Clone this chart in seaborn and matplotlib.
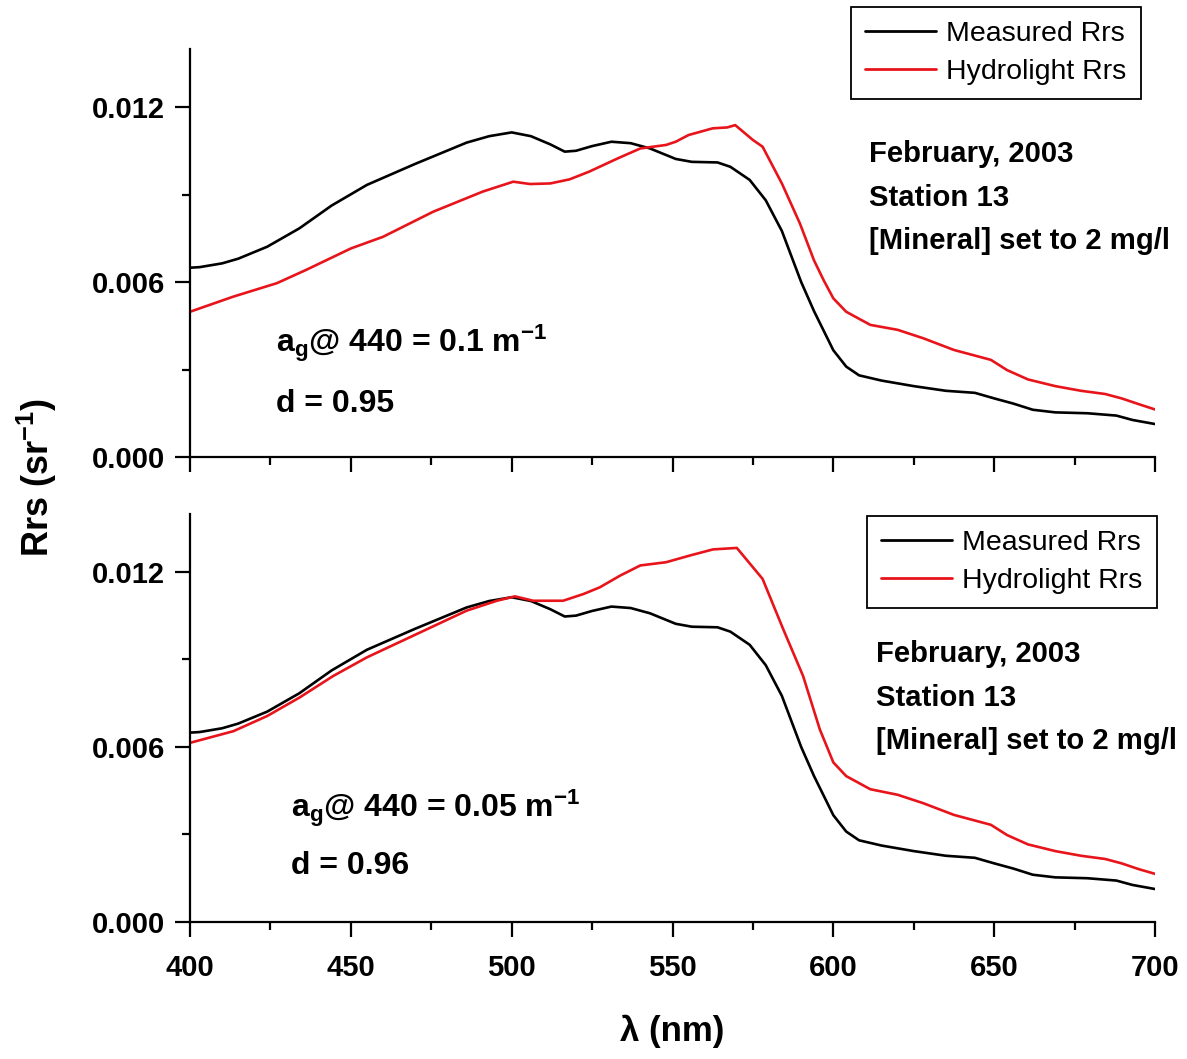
import numpy as np
import pandas as pd
import matplotlib
matplotlib.use("Agg")
import matplotlib.pyplot as plt
from matplotlib.ticker import MultipleLocator, FormatStrFormatter
import seaborn as sns

# ---------------- data ----------------
wl_meas = [400, 403, 410, 415, 424, 434, 444, 455, 470, 486, 493, 500, 506, 512,
           516.5, 520, 525, 531, 537, 543, 551, 556, 564, 568, 574, 579, 584, 590,
           594, 600, 604, 608, 615, 625, 635, 644, 650, 656, 662, 669, 679, 688, 693, 700]
rrs_meas = [0.00649, 0.00651, 0.00664, 0.00680, 0.00721, 0.00784, 0.00862, 0.00933,
            0.01005, 0.01078, 0.01100, 0.01113, 0.01100, 0.01072, 0.01047, 0.01050,
            0.01066, 0.01081, 0.01076, 0.01058, 0.01022, 0.01012, 0.01010, 0.00995,
            0.00950, 0.00880, 0.00775, 0.00600, 0.00500, 0.00366, 0.00310, 0.00280,
            0.00262, 0.00243, 0.00227, 0.00220, 0.00201, 0.00183, 0.00162, 0.00153,
            0.00150, 0.00142, 0.00127, 0.00113]

wl_hydro_top = [400, 413.5, 427, 436, 450, 460, 475.6, 491, 500.5, 505.7, 512, 518,
                524, 533, 540, 548, 551, 555, 562.5, 567, 569.5, 575, 578, 584, 589.6,
                594, 597, 600, 604, 611.5, 620, 628, 637.5, 649, 654, 660.5, 669, 677,
                684.5, 689.6, 695, 700]
rrs_hydro_top = [0.00498, 0.00550, 0.00596, 0.00641, 0.00715, 0.00755, 0.00841, 0.00910,
                 0.00944, 0.00936, 0.00938, 0.00952, 0.00978, 0.01024, 0.01058, 0.01070,
                 0.01081, 0.01104, 0.01127, 0.01130, 0.01138, 0.01087, 0.01064, 0.00938,
                 0.00801, 0.00674, 0.00606, 0.00544, 0.00498, 0.00453, 0.00436, 0.00407,
                 0.00367, 0.00333, 0.00298, 0.00266, 0.00243, 0.00227, 0.00216, 0.00201,
                 0.00181, 0.00163]

wl_hydro_bot = [400, 413.5, 424, 434, 444.5, 455, 470.5, 486, 495.4, 501, 506.7, 516,
                522.3, 527.4, 533.7, 540, 548, 555.4, 562.6, 570, 578, 584.4, 590.6,
                595.8, 600, 604, 611.5, 620, 628, 637.5, 649, 654, 660.5, 669, 677,
                684.5, 689.6, 695, 700]
rrs_hydro_bot = [0.00614, 0.00654, 0.00706, 0.00769, 0.00843, 0.00907, 0.00987, 0.01067,
                 0.01101, 0.01116, 0.01101, 0.01101, 0.01124, 0.01147, 0.01187, 0.01222,
                 0.01233, 0.01256, 0.01277, 0.01282, 0.01176, 0.01004, 0.00843, 0.00660,
                 0.00547, 0.00500, 0.00455, 0.00436, 0.00407, 0.00367, 0.00333, 0.00298,
                 0.00266, 0.00243, 0.00227, 0.00216, 0.00201, 0.00181, 0.00165]

series_names = ["Measured Rrs", "Hydrolight Rrs"]
series_colors = ["#000000", "#e8141b"]
ag_labels = ["0.1", "0.05"]
d_labels = ["0.95", "0.96"]
info_lines = ["February, 2003", "Station 13", "[Mineral] set to 2 mg/l"]
x_ticks = [400, 450, 500, 550, 600, 650, 700]
y_ticks = [0.000, 0.006, 0.012]

# ---------------- style ----------------
sns.set_theme(style="ticks")
plt.rcParams["font.family"] = ["Liberation Sans", "DejaVu Sans"]
plt.rcParams["mathtext.default"] = "regular"
plt.rcParams["axes.linewidth"] = 1.6
for key in ["text.color", "axes.labelcolor", "xtick.color", "ytick.color",
            "axes.edgecolor"]:
    plt.rcParams[key] = "black"

W, H = 1187, 1059
fig = plt.figure(figsize=(W / 100, H / 100), dpi=100)

def fx(px):
    return px / W

def fy(py):
    return 1 - py / H

ax_top = fig.add_axes([fx(190), fy(457), fx(1155) - fx(190), fy(48.7) - fy(457)])
ax_bot = fig.add_axes([fx(190), fy(922), fx(1155) - fx(190), fy(513.5) - fy(922)])

panels = [
    (ax_top, rrs_hydro_top, wl_hydro_top, (851, 7), (869, 154), (276, 343), (276, 404)),
    (ax_bot, rrs_hydro_bot, wl_hydro_bot, (867, 516), (876, 654), (291, 808), (291, 866)),
]

for i, (ax, hv, hw, leg_xy, info_xy, ag_xy, d_xy) in enumerate(panels):
    df = pd.concat([
        pd.DataFrame({"wl": wl_meas, "rrs": rrs_meas, "series": series_names[0]}),
        pd.DataFrame({"wl": hw, "rrs": hv, "series": series_names[1]}),
    ], ignore_index=True)
    sns.lineplot(data=df, x="wl", y="rrs", hue="series", palette=series_colors,
                 hue_order=series_names, linewidth=1.9, ax=ax, estimator=None,
                 sort=False)
    ax.set_xlim(400, 700)
    ax.set_ylim(0, 0.014)
    ax.set_xticks(x_ticks)
    ax.xaxis.set_minor_locator(MultipleLocator(25))
    ax.set_yticks(y_ticks)
    ax.yaxis.set_minor_locator(MultipleLocator(0.003))
    ax.yaxis.set_major_formatter(FormatStrFormatter("%.3f"))
    ax.set_xlabel("")
    ax.set_ylabel("")
    sns.despine(ax=ax)
    ax.tick_params(axis="both", which="major", length=11, width=1.6, direction="out",
                   labelsize=21, colors="black", pad=7)
    ax.tick_params(axis="x", which="major", pad=12)
    ax.tick_params(axis="both", which="minor", length=6, width=1.6, direction="out")
    for lab in ax.get_yticklabels() + ax.get_xticklabels():
        lab.set_fontweight("bold")
    if i == 0:
        ax.tick_params(axis="x", labelbottom=False)

    # legend
    handles, labels = ax.get_legend_handles_labels()
    leg = ax.legend(handles, labels, loc="upper left",
                    bbox_to_anchor=(fx(leg_xy[0]), fy(leg_xy[1])),
                    bbox_transform=fig.transFigure, fontsize=20.5, frameon=True,
                    fancybox=False, edgecolor="black", framealpha=1,
                    handlelength=2.5, handletextpad=0.35, borderpad=0.5,
                    labelspacing=0.4, borderaxespad=0)
    leg.get_frame().set_linewidth(1.3)
    for ln in leg.get_lines():
        ln.set_linewidth(2.0)

    # info text
    for k, line in enumerate(info_lines):
        fig.text(fx(info_xy[0]), fy(info_xy[1] + 43.5 * k), line, fontsize=21.1,
                 fontweight="bold", ha="left", va="center")

    fig.text(fx(ag_xy[0]), fy(ag_xy[1]),
             r"a$_{g}$@ 440 = " + ag_labels[i] + r" m$^{-1}$",
             fontsize=23, fontweight="bold", ha="left", va="center")
    fig.text(fx(d_xy[0]), fy(d_xy[1]), "d = " + d_labels[i],
             fontsize=23, fontweight="bold", ha="left", va="center")

fig.text(fx(37), fy(478), r"Rrs (sr$^{-1}$)", rotation=90, fontsize=26,
         fontweight="bold", ha="center", va="center")
fig.text(fx(672), fy(1031), "λ (nm)", fontsize=25, fontweight="bold",
         ha="center", va="center")

fig.savefig("out.png", dpi=100)
